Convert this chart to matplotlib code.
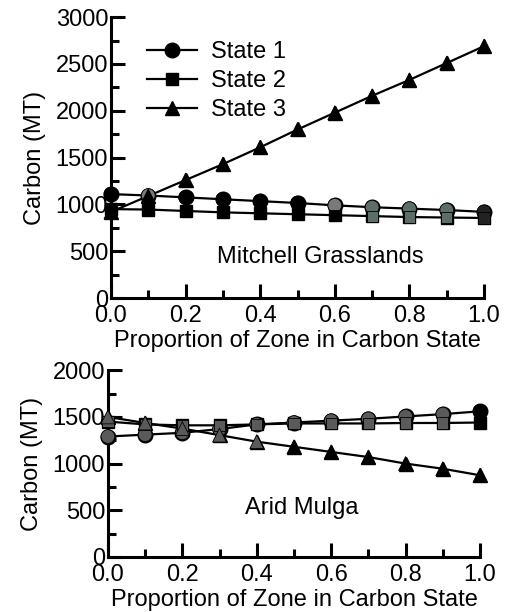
import numpy as np
import matplotlib.pyplot as plt

plt.rcParams['font.family'] = ['Liberation Sans', 'DejaVu Sans']

prop = [0.0, 0.1, 0.2, 0.3, 0.4, 0.5, 0.6, 0.7, 0.8, 0.9, 1.0]

# Mitchell Grasslands
mg_state1 = [1110, 1095, 1075, 1055, 1035, 1015, 990, 970, 955, 940, 920]
mg_state2 = [950, 945, 930, 915, 905, 895, 885, 875, 865, 860, 855]
mg_state3 = [920, 1090, 1260, 1430, 1610, 1800, 1980, 2160, 2330, 2510, 2690]

# Arid Mulga
am_state1 = [1290, 1310, 1330, 1370, 1420, 1440, 1460, 1480, 1505, 1530, 1560]
am_state2 = [1450, 1420, 1410, 1410, 1420, 1430, 1430, 1430, 1435, 1435, 1440]
am_state3 = [1500, 1435, 1375, 1305, 1235, 1180, 1125, 1070, 1000, 945, 875]

labels = ["State 1", "State 2", "State 3"]
markers = ['o', 's', '^']
msizes = [10.5, 8.5, 10.5]

# scanned look: a few markers come out gray
gg = '#5b6e68'
mg_faces = [
    ['k', '#7a7a7a'] + ['k'] * 4 + ['#7a7a7a'] + [gg] * 3 + ['#222222'],
    ['k'] * 7 + [gg] * 3 + ['#222222'],
    ['k'] * 11,
]
am_faces = [
    ['#5a5a5a'] * 10 + ['k'],
    ['#5a5a5a'] * 10 + ['k'],
    ['#5a5a5a'] * 5 + ['k'] * 6,
]

FS = 17


def draw(ax, series, faces, ymax, label_text, tx, ty, legend=False):
    for i, ys in enumerate(series):
        ax.plot(prop, ys, color='k', lw=1.6, marker=markers[i], ms=msizes[i],
                mfc='k', mec='k', label=labels[i], clip_on=False, zorder=3)
        ax.scatter(prop, ys, marker=markers[i], s=msizes[i] ** 2 * 0.9,
                   c=faces[i], edgecolors='k', linewidths=0.6, zorder=4, clip_on=False)
    ax.set_xlim(0, 1.0)
    ax.set_ylim(0, ymax)
    ax.spines['top'].set_visible(False)
    ax.spines['right'].set_visible(False)
    ax.spines['left'].set_linewidth(2.2)
    ax.spines['bottom'].set_linewidth(2.2)
    ax.set_xticks(np.arange(0, 1.01, 0.2))
    ax.set_xticks(np.arange(0.1, 1.0, 0.2), minor=True)
    ax.set_yticks(np.arange(0, ymax + 1, 500))
    ax.set_yticks(np.arange(250, ymax, 500), minor=True)
    ax.xaxis.set_major_formatter(plt.FormatStrFormatter('%.1f'))
    ax.tick_params(which='major', direction='in', length=10, width=2.2,
                   labelsize=FS, pad=2)
    ax.tick_params(which='minor', direction='in', length=6, width=2.2)
    ax.tick_params(axis='x', which='major', pad=5)
    ax.set_xlabel("Proportion of Zone in Carbon State", fontsize=FS, labelpad=2)
    ax.set_ylabel("Carbon (MT)", fontsize=FS, labelpad=7)
    ax.text(tx, ty, label_text, fontsize=FS, ha='center', va='center')
    if legend:
        ax.legend(loc='upper left', bbox_to_anchor=(0.04, 0.99), frameon=False,
                  fontsize=FS, handlelength=2.1, handletextpad=0.6,
                  labelspacing=0.3, markerscale=1.0)


fig = plt.figure(figsize=(5.09, 6.12), dpi=100)
ax1 = fig.add_axes([0.218, 0.513, 0.733, 0.459])
ax2 = fig.add_axes([0.212, 0.090, 0.731, 0.305])

draw(ax1, [mg_state1, mg_state2, mg_state3], mg_faces, 3000,
     "Mitchell Grasslands", 0.56, 440, legend=True)
draw(ax2, [am_state1, am_state2, am_state3], am_faces, 2000,
     "Arid Mulga", 0.52, 525)

fig.savefig("out.png", dpi=100)
